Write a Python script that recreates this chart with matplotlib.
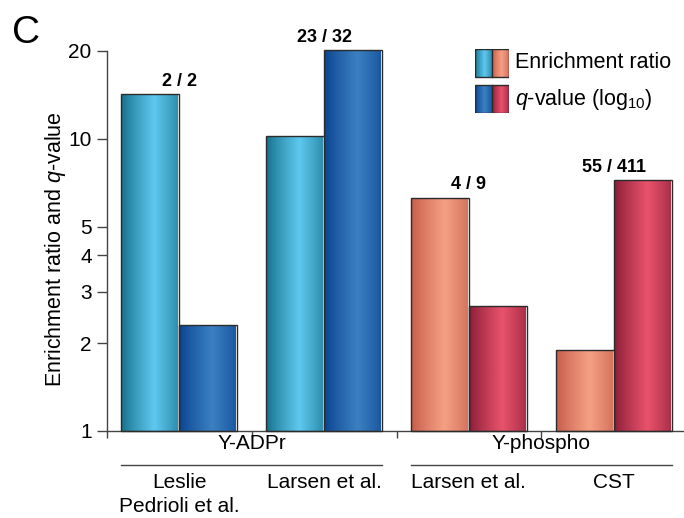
import matplotlib
matplotlib.use('Agg')
import matplotlib.pyplot as plt
import matplotlib.transforms as mtransforms
from matplotlib.colors import to_rgb
from matplotlib.patches import Rectangle
import numpy as np

plt.rcParams['font.family'] = ['Liberation Sans', 'DejaVu Sans']
plt.rcParams['mathtext.fontset'] = 'custom'
plt.rcParams['mathtext.rm'] = 'Liberation Sans'
plt.rcParams['mathtext.it'] = 'Liberation Sans:italic'

# data
groups = ['Y-ADPr', 'Y-phospho']
datasets = ['Leslie\nPedrioli et al.', 'Larsen et al.', 'Larsen et al.', 'CST']
enrichment = [14.2, 10.2, 6.3, 1.89]
qvalue_log = [2.30, 20.1, 2.68, 7.24]
counts = ['2 / 2', '23 / 32', '4 / 9', '55 / 411']
yticks = [1, 2, 3, 4, 5, 10, 20]

# (edge, centre) colours of the shaded bars
shade_enrich = [('#15708b', '#5ec8ef'), ('#15708b', '#5ec8ef'),
                ('#c65c4a', '#f5a084'), ('#c65c4a', '#f5a084')]
shade_q = [('#0a4390', '#3b80c1'), ('#0a4390', '#3b80c1'),
           ('#8a1d37', '#e9526b'), ('#8a1d37', '#e9526b')]


def gradient(edge, centre, n=120):
    t = np.linspace(0, 1, n)
    v = np.clip(1 - np.abs(t - 0.57) / 0.57, 0, 1) ** 0.85
    e = np.array(to_rgb(edge))
    c = np.array(to_rgb(centre))
    return (e + (c - e) * v[:, None])[None, :, :]


def shaded_bar(ax, x, h, w, colors):
    # bars start at 1 on the log axis, so the height is h - 1
    bar = ax.bar(x, h - 1, w, bottom=1, align='edge', facecolor='none',
                 edgecolor='#2b2b2b', linewidth=1.0, zorder=3, clip_on=False)[0]
    ax.imshow(gradient(*colors), extent=[x, x + w, 1, h], aspect='auto',
              interpolation='bilinear', zorder=2, clip_on=False)
    return bar


fig = plt.figure(figsize=(6.84, 5.18), dpi=100)
ax = fig.add_axes([107 / 684, 87 / 518, 579 / 684, 380 / 518])
ax.set_yscale('log')

w = 0.4
for i in range(4):
    shaded_bar(ax, i + 0.1, enrichment[i], w, shade_enrich[i])
    shaded_bar(ax, i + 0.5, qvalue_log[i], w, shade_q[i])
    top = max(enrichment[i], qvalue_log[i])
    ax.annotate(counts[i], (i + 0.5, top), xytext=(0, 3), textcoords='offset points',
                ha='center', va='bottom', fontsize=13, fontweight='bold',
                annotation_clip=False)

ax.set_xlim(0, 4)
ax.set_ylim(1, 20)
ax.set_yticks(yticks)
ax.set_yticklabels([str(t) for t in yticks])
ax.yaxis.set_minor_locator(matplotlib.ticker.NullLocator())
ax.set_xticks(range(5))
ax.set_xticklabels([])
ax.tick_params(axis='y', length=7, width=1, pad=4, labelsize=15, color='#444444')
ax.tick_params(axis='x', length=5, width=1, color='#444444')
for s in ['top', 'right']:
    ax.spines[s].set_visible(False)
for s in ['left', 'bottom']:
    ax.spines[s].set_color('#444444')
    ax.spines[s].set_linewidth(1)

ax.set_ylabel('Enrichment ratio and $q$-value', fontsize=15.5, va='center')
ax.yaxis.set_label_coords(-52 / 579, 0.48)

# category labels under the axis
trans = mtransforms.blended_transform_factory(ax.transData, ax.transAxes)
for g, name in enumerate(groups):
    ax.text(2 * g + 1, -0.034, name, transform=trans, ha='center', va='center', fontsize=15)
    ax.plot([2 * g + 0.1, 2 * g + 1.9], [-0.089, -0.089], transform=trans,
            color='#444444', lw=1, clip_on=False)
for i, name in enumerate(datasets):
    ax.text(i + 0.5, -0.11, name, transform=trans, ha='center', va='top',
            fontsize=15, linespacing=1.35)

# legend with split shaded swatches
lax = fig.add_axes([475 / 684, 1 - 113 / 518, 34 / 684, 64 / 518])
lax.axis('off')
for row, (y0, shades) in enumerate([(36, shade_enrich), (0, shade_q)]):
    for k, idx in enumerate([0, 2]):
        lax.imshow(gradient(*shades[idx]), extent=[17 * k, 17 * k + 17, y0, y0 + 28],
                   aspect='auto', interpolation='bilinear')
    lax.add_patch(Rectangle((0, y0), 34, 28, fill=False, edgecolor='#2b2b2b', lw=1))
    lax.plot([17, 17], [y0, y0 + 28], color='#2b2b2b', lw=1)
lax.set_xlim(0, 34)
lax.set_ylim(0, 64)

fig.text(515 / 684, 1 - 63 / 518, 'Enrichment ratio', fontsize=15.5, va='center')
fig.text(515 / 684, 1 - 99 / 518, '$q$-value (log$_{10}$)', fontsize=15.5, va='center')

fig.text(12 / 684, 1 - 43 / 518, 'C', fontsize=28, va='baseline')

fig.savefig('out.png', dpi=100)
